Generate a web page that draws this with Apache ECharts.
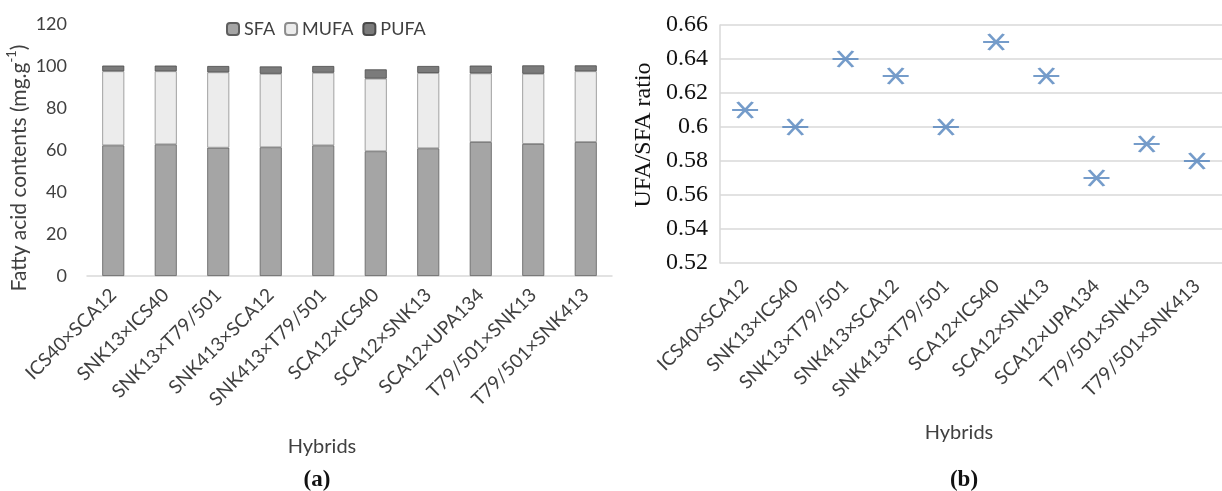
<!doctype html>
<html lang="en">
<head>
	<meta charset="utf-8" />
	<title>Fatty acids and UFA/SFA ratio</title>
	<script src="https://cdn.jsdelivr.net/npm/echarts@6/dist/echarts.min.js"></script>
	<style>
		html, body { margin: 0; padding: 0; background: #fff; }
		#main { width: 1222px; height: 491px; }
	</style>
</head>
<body>
	<div id="main"></div>
	<script>
		var hybrids = ['ICS40×SCA12', 'SNK13×ICS40', 'SNK13×T79/501', 'SNK413×SCA12', 'SNK413×T79/501',
			'SCA12×ICS40', 'SCA12×SNK13', 'SCA12×UPA134', 'T79/501×SNK13', 'T79/501×SNK413'];
		var sfa  = [62.2, 62.7, 61.1, 61.3, 62.2, 59.4, 60.8, 63.8, 62.9, 63.8];
		var mufa = [35.3, 34.8, 35.9, 35.0, 34.6, 34.6, 35.9, 32.7, 33.4, 33.7];
		var pufa = [2.7, 2.7, 3.0, 3.5, 3.2, 4.4, 3.3, 3.7, 4.0, 2.8];
		var ratio = [0.61, 0.60, 0.64, 0.63, 0.60, 0.65, 0.63, 0.57, 0.59, 0.58];

		var sans = 'Lato';
		var serif = 'Liberation Serif';
		var grey = '#404040';
		var chart = echarts.init(document.getElementById('main'));

		var option = {
			animation: false,
			textStyle: { fontFamily: sans },
			legend: {
				left: 221, top: 15,
				itemWidth: 12, itemHeight: 12, itemGap: 9,
				textStyle: { fontSize: 18, color: grey, fontFamily: sans },
				data: ['SFA', 'MUFA', 'PUFA']
			},
			grid: [
				{ left: 87, right: 610, top: 24, bottom: 215 },
				{ left: 720, right: -13, top: 25, bottom: 228 }
			],
			xAxis: [
				{
					type: 'category', gridIndex: 0, data: hybrids,
					axisLine: { lineStyle: { color: '#d9d9d9', width: 1.5 } },
					axisTick: { show: false },
					axisLabel: { rotate: 45, interval: 0, fontSize: 19, color: grey, margin: 16 }
				},
				{
					type: 'category', gridIndex: 1, data: hybrids,
					axisLine: { show: false },
					axisTick: { show: false },
					axisLabel: { rotate: 45, interval: 0, fontSize: 19, color: grey, margin: 20 }
				}
			],
			yAxis: [
				{
					type: 'value', gridIndex: 0, min: 0, max: 120, interval: 20,
					axisLine: { show: false }, axisTick: { show: false },
					splitLine: { show: false },
					axisLabel: { fontSize: 18, color: grey, margin: 20 },
					name: 'Fatty acid contents (mg.g{sup|-1})',
					nameLocation: 'middle', nameGap: 46,
					nameTextStyle: {
						fontSize: 21, color: grey, fontFamily: sans, lineHeight: 26,
						padding: [0, 36, 0, 0],
						rich: {
							sup: { fontSize: 13, color: grey, fontFamily: sans, lineHeight: 26, verticalAlign: 'top', padding: [0, 0, 11, 0] }
						}
					}
				},
				{
					type: 'value', gridIndex: 1, min: 0.52, max: 0.66, interval: 0.02,
					axisLine: { show: true, lineStyle: { color: '#d9d9d9', width: 1.5 } },
					axisTick: { show: false },
					splitLine: { lineStyle: { color: '#d9d9d9', width: 1.5 } },
					axisLabel: {
						fontSize: 24, color: '#111', fontFamily: serif, margin: 12,
						formatter: function (v) { return String(+v.toFixed(2)); }
					},
					name: 'UFA/SFA ratio', nameLocation: 'middle', nameGap: 64,
					nameTextStyle: { fontSize: 24, color: '#111', fontFamily: serif, padding: [0, 0, 0, 18] }
				}
			],
			series: [
				{
					name: 'SFA', type: 'bar', stack: 'fa', xAxisIndex: 0, yAxisIndex: 0,
					barWidth: 22, data: sfa,
					itemStyle: { color: '#a5a5a5', borderColor: '#5e5e5e', borderWidth: 0.8 }
				},
				{
					name: 'MUFA', type: 'bar', stack: 'fa', xAxisIndex: 0, yAxisIndex: 0,
					barWidth: 22, data: mufa,
					itemStyle: { color: '#ececec', borderColor: '#8c8c8c', borderWidth: 0.8 }
				},
				{
					name: 'PUFA', type: 'bar', stack: 'fa', xAxisIndex: 0, yAxisIndex: 0,
					barWidth: 22, data: pufa,
					itemStyle: { color: '#7b7b7b', borderColor: '#4a4a4a', borderWidth: 0.8 }
				},
				{
					name: 'UFA/SFA', type: 'scatter', xAxisIndex: 1, yAxisIndex: 1,
					data: ratio,
					symbol: 'path://M0,8 L26,8 M5.5,0 L20.5,16 M5.5,16 L20.5,0',
					symbolSize: [26, 16],
					itemStyle: { color: 'rgba(0,0,0,0)', borderColor: '#5283bd', borderWidth: 2.4 }
				}
			],
			graphic: [
				{ type: 'text', x: 322, y: 447, style: { text: 'Hybrids', font: '20px Lato', fill: grey, align: 'center', verticalAlign: 'middle' } },
				{ type: 'text', x: 959, y: 433, style: { text: 'Hybrids', font: '20px Lato', fill: grey, align: 'center', verticalAlign: 'middle' } },
				{ type: 'text', x: 317, y: 480, style: { text: '(a)', font: 'bold 23px "Liberation Serif"', fill: '#111', align: 'center', verticalAlign: 'middle' } },
				{ type: 'text', x: 964, y: 480, style: { text: '(b)', font: 'bold 23px "Liberation Serif"', fill: '#111', align: 'center', verticalAlign: 'middle' } }
			]
		};
		chart.setOption(option);
	</script>
</body>
</html>
